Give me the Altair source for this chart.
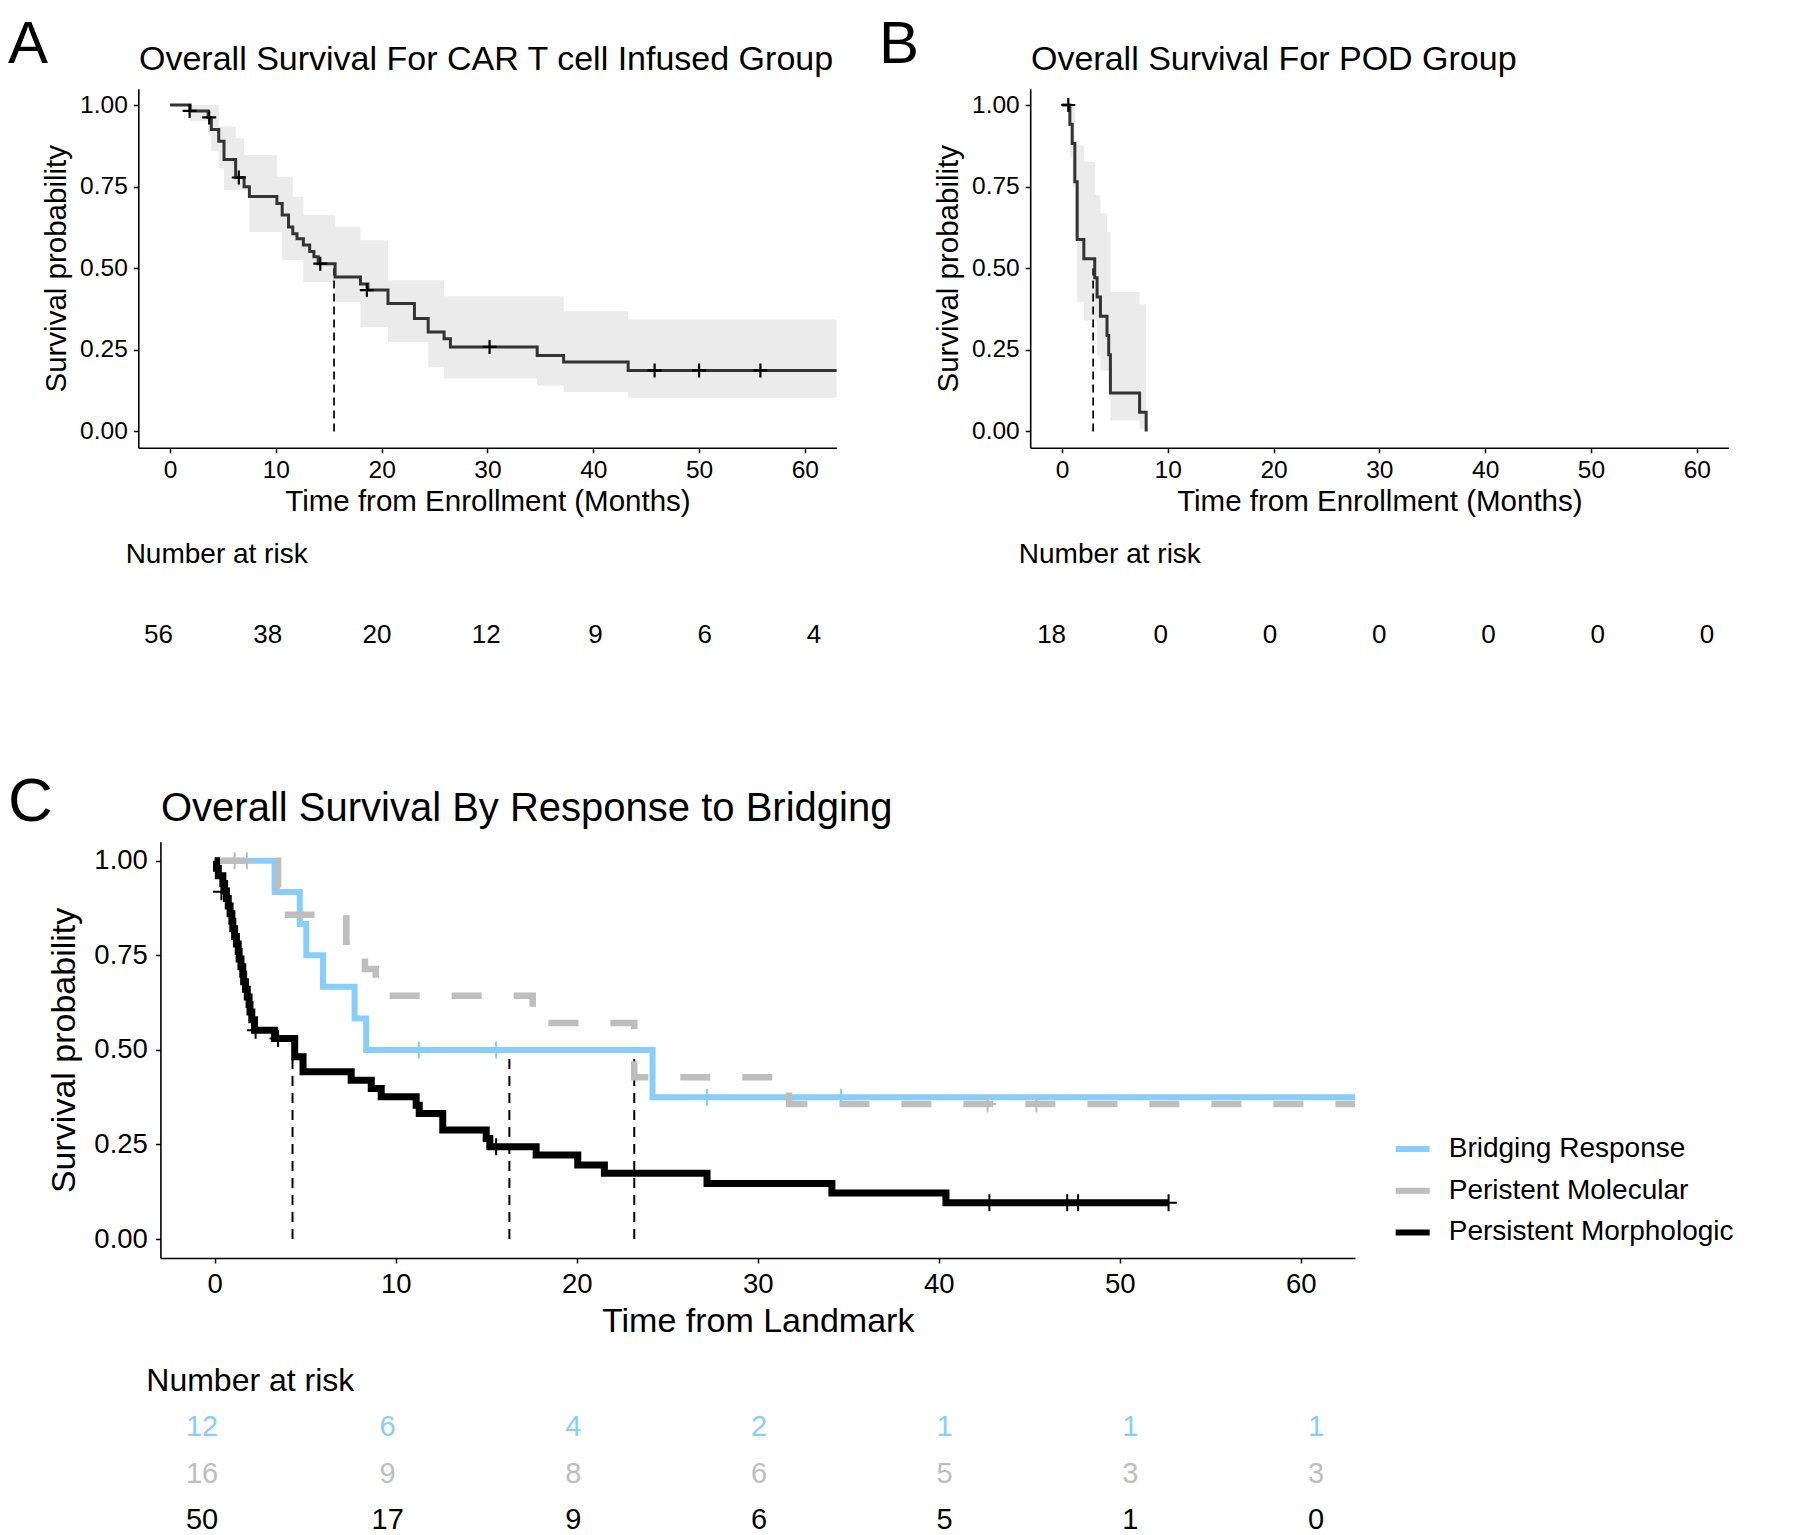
import altair as alt
import pandas as pd

FONT = "Liberation Sans"
W, H = 1784, 1527

# ---------------- data ----------------
# Panel A: CAR T cell infused group (Kaplan-Meier steps)
a_time = [0, 1.9, 3.6, 3.9, 4.6, 5.1, 6.2, 7.0, 7.5, 10.1, 10.6, 11.2, 11.6, 12.0, 12.6, 13.2, 13.6, 14.0, 15.6, 18.0,
          18.7, 20.6, 23.1, 24.4, 25.9, 26.5, 34.7, 37.2, 43.3, 63]
a_surv = [1.0, 0.982, 0.962, 0.925, 0.889, 0.833, 0.778, 0.75, 0.72, 0.698, 0.663, 0.626, 0.606, 0.59, 0.571, 0.551,
          0.535, 0.514, 0.473, 0.452, 0.433, 0.392, 0.346, 0.305, 0.284, 0.259, 0.233, 0.213, 0.187, 0.187]
a_band_t = [0, 1.9, 3.6, 3.9, 4.6, 5.1, 6.2, 7.0, 7.5, 10.1, 10.6, 11.6, 12.6, 15.6, 18.0, 20.6, 24.4, 25.9, 34.7, 37.2, 43.3, 63]
a_upper = [1.0, 1.0, 1.0, 1.0, 0.934, 0.934, 0.898, 0.847, 0.847, 0.78, 0.78, 0.719, 0.663, 0.627, 0.586, 0.463, 0.463,
           0.414, 0.414, 0.368, 0.343, 0.343]
a_lower = [1.0, 0.95, 0.91, 0.86, 0.806, 0.739, 0.739, 0.739, 0.611, 0.611, 0.525, 0.525, 0.458, 0.397, 0.32, 0.274, 0.197,
           0.162, 0.141, 0.121, 0.103, 0.103]
a_cens_t = [1.85, 3.7, 6.5, 14.2, 18.6, 30.2, 45.8, 50.0, 55.8]
a_cens_s = [0.982, 0.962, 0.778, 0.514, 0.433, 0.259, 0.187, 0.187, 0.187]
a_median = [15.5]

# Panel B: POD group
b_time = [0, 0.75, 0.97, 1.22, 1.44, 2.07, 3.1, 3.32, 3.64, 4.26, 4.42, 4.58, 7.34, 7.96]
b_surv = [1.0, 0.941, 0.882, 0.765, 0.588, 0.529, 0.471, 0.412, 0.353, 0.294, 0.235, 0.118, 0.059, 0.0]
b_band_t = [0, 0.75, 0.97, 1.22, 1.44, 2.07, 3.1, 3.32, 3.64, 4.26, 4.58, 7.34, 7.96]
b_upper = [1.0, 1.0, 1.0, 0.877, 0.877, 0.826, 0.724, 0.724, 0.668, 0.611, 0.427, 0.39, 0.39]
b_lower = [1.0, 0.84, 0.75, 0.6, 0.397, 0.34, 0.34, 0.233, 0.187, 0.187, 0.034, 0.008, 0.008]
b_cens_t = [0.6]
b_cens_s = [1.0]
b_median = [2.95]

# Panel C: by response to bridging
groups = ["Bridging Response", "Peristent Molecular", "Persistent Morphologic"]
colors = ["#87CEFA", "#BEBEBE", "#000000"]

c1_time = [0, 3.31, 4.7, 5.06, 5.98, 7.73, 8.37, 24.19, 63]
c1_surv = [1.0, 0.917, 0.833, 0.75, 0.667, 0.583, 0.5, 0.375, 0.375]
c1_cens_t = [11.28, 15.55, 27.2, 34.6]
c1_cens_s = [0.5, 0.5, 0.375, 0.375]

c2_time = [0, 3.5, 4.05, 7.27, 8.3, 8.9, 17.57, 23.18, 31.73, 63]
c2_surv = [1.0, 0.929, 0.857, 0.786, 0.714, 0.643, 0.571, 0.428, 0.357, 0.357]
c2_cens_t = [1.1, 1.78, 42.7, 45.4]
c2_cens_s = [1.0, 1.0, 0.357, 0.357]

c3_time = [0, 0.1, 0.2, 0.45, 0.55, 0.65, 0.75, 0.85, 0.95, 1.0, 1.1, 1.2, 1.3, 1.35, 1.45, 1.55, 1.6, 1.7, 1.8, 1.9,
           1.95, 2.05, 2.2, 3.31, 4.42, 4.88, 7.54, 8.65, 9.2, 11.13, 11.3, 12.6, 15.0, 15.2, 17.76, 20.06, 21.53,
           27.2, 34.1, 40.4, 52.7]
c3_surv = [1.0, 0.98, 0.96, 0.94, 0.92, 0.90, 0.88, 0.86, 0.84, 0.82, 0.80, 0.78, 0.76, 0.74, 0.72, 0.70, 0.68, 0.66,
           0.64, 0.62, 0.60, 0.58, 0.552, 0.53, 0.482, 0.442, 0.42, 0.398, 0.376, 0.354, 0.332, 0.288, 0.266, 0.244,
           0.222, 0.196, 0.174, 0.147, 0.122, 0.096, 0.096]
c3_cens_t = [0.37, 2.26, 3.5, 15.55, 42.8, 47.1, 47.7, 52.7]
c3_cens_s = [0.918, 0.552, 0.53, 0.244, 0.096, 0.096, 0.096, 0.096]

c_medians = [4.3, 16.28, 23.18]

# Risk tables
risk_times = [0, 10, 20, 30, 40, 50, 60]
risk_a = [56, 38, 20, 12, 9, 6, 4]
risk_b = [18, 0, 0, 0, 0, 0, 0]
risk_c1 = [12, 6, 4, 2, 1, 1, 1]
risk_c2 = [16, 9, 8, 6, 5, 3, 3]
risk_c3 = [50, 17, 9, 6, 5, 1, 0]

# ---------------- helpers ----------------
CROSS = "M-1,0L1,0M0,-1L0,1"
time_ticks = [0, 10, 20, 30, 40, 50, 60]
surv_ticks = [0, 0.25, 0.5, 0.75, 1.0]


def axes(x_rng, y_rng, x_title, x_off, y_off, lab, tit, xlp, xtp, ylp, ytp):
    ax_x = alt.Axis(title=x_title, values=time_ticks, format="d", orient="bottom", offset=x_off,
                    labelFontSize=lab, titleFontSize=tit, tickSize=5, tickWidth=1.5, domainWidth=1.6,
                    labelPadding=xlp, titlePadding=xtp)
    ax_y = alt.Axis(title="Survival probability", values=surv_ticks, format=".2f", orient="left", offset=y_off,
                    labelFontSize=lab, titleFontSize=tit, tickSize=5, tickWidth=1.5, domainWidth=1.6,
                    labelPadding=ylp, titlePadding=ytp)
    xs = alt.Scale(domain=[-3, 63], range=x_rng, nice=False, zero=False)
    ys = alt.Scale(domain=[-0.05, 1.05], range=y_rng, nice=False, zero=False)

    def X(f):
        return alt.X(f"{f}:Q", scale=xs, axis=ax_x)

    def Y(f):
        return alt.Y(f"{f}:Q", scale=ys, axis=ax_y)

    return X, Y


def km_panel(X, Y, t, s, bt, bu, bl, ct, cs, med, line_color="#333333"):
    band = alt.Chart(pd.DataFrame({"t": bt, "upper": bu, "lower": bl})).mark_area(
        interpolate="step-after", color="#EBEBEB", opacity=1).encode(x=X("t"), y=Y("upper"), y2="lower:Q")
    medr = alt.Chart(pd.DataFrame({"t": med, "y0": [0.0] * len(med), "y1": [0.5] * len(med)})).mark_rule(
        color="black", strokeDash=[8, 5], strokeWidth=1.7).encode(x=X("t"), y=Y("y0"), y2="y1:Q")
    line = alt.Chart(pd.DataFrame({"t": t, "s": s})).mark_line(
        interpolate="step-after", color=line_color, strokeWidth=3).encode(x=X("t"), y=Y("s"))
    cens = alt.Chart(pd.DataFrame({"t": ct, "s": cs})).mark_point(
        shape=CROSS, size=196, filled=False, color="black", strokeWidth=2.2, opacity=1).encode(x=X("t"), y=Y("s"))
    return alt.layer(band, medr, line, cens)


# ---------------- panel A ----------------
XA, YA = axes([130.3, 828.6], [439.8, 80.7], "Time from Enrollment (Months)", -(H - 439.8), -130.3,
              24.5, 29.5, 6, 5, 6, 8)
panelA = km_panel(XA, YA, a_time, a_surv, a_band_t, a_upper, a_lower, a_cens_t, a_cens_s, a_median)

# ---------------- panel B ----------------
XB, YB = axes([1022.2, 1720.5], [439.8, 80.7], "Time from Enrollment (Months)", -(H - 439.8), -1022.2,
              24.5, 29.5, 6, 5, 6, 8)
panelB = km_panel(XB, YB, b_time, b_surv, b_band_t, b_upper, b_lower, b_cens_t, b_cens_s, b_median)

# ---------------- panel C ----------------
XC, YC = axes([152.4, 1347.0], [1250.0, 833.8], "Time from Landmark", -(H - 1250.0), -152.4,
              27.5, 34, 7.5, 6, 8, 12)
legC = alt.Legend(title=None, orient="none", legendX=1384.7, legendY=1121, symbolType="stroke",
                  symbolStrokeWidth=6, symbolSize=1156, labelFontSize=28, labelFont=FONT, labelColor="black",
                  rowPadding=7.7, labelOffset=16, padding=0, labelLimit=0)
colC = alt.Color("group:N", scale=alt.Scale(domain=groups, range=colors), legend=legC)

medC = alt.Chart(pd.DataFrame({"t": c_medians, "y0": [0.0] * 3, "y1": [0.5] * 3})).mark_rule(
    color="black", strokeDash=[10, 7], strokeWidth=2).encode(x=XC("t"), y=YC("y0"), y2="y1:Q")


def c_line(t, s, g, dash, width):
    df = pd.DataFrame({"t": t, "s": s, "group": [g] * len(t)})
    kw = dict(interpolate="step-after", strokeWidth=width, strokeCap="butt")
    if dash:
        kw["strokeDash"] = dash
    return alt.Chart(df).mark_line(**kw).encode(x=XC("t"), y=YC("s"), color=colC)


lineC1 = c_line(c1_time, c1_surv, groups[0], None, 6)
lineC2 = c_line(c2_time, c2_surv, groups[1], [30, 32], 6.5)
lineC3 = c_line(c3_time, c3_surv, groups[2], None, 7)

cens_df = pd.DataFrame({
    "t": c1_cens_t + c2_cens_t + c3_cens_t,
    "s": c1_cens_s + c2_cens_s + c3_cens_s,
    "group": [groups[0]] * len(c1_cens_t) + [groups[1]] * len(c2_cens_t) + [groups[2]] * len(c3_cens_t),
})
censC = alt.Chart(cens_df).mark_point(shape=CROSS, size=289, filled=False, strokeWidth=2, opacity=1).encode(
    x=XC("t"), y=YC("s"), color=colC)

panelC = alt.layer(medC, lineC1, lineC2, lineC3, censC)


# ---------------- risk tables ----------------
def risk_table(x_rng, y_rng, rows, head_size, num_size, n_rows):
    xs = alt.Scale(domain=[0, 60], range=x_rng, nice=False, zero=False)
    ys = alt.Scale(domain=[0, n_rows], range=y_rng, nice=False, zero=False)
    head = alt.Chart(pd.DataFrame({"t": [-3], "row": [0], "label": ["Number at risk"]})).mark_text(
        align="left", baseline="middle", fontSize=head_size, font=FONT, color="black").encode(
        x=alt.X("t:Q", scale=xs, axis=None), y=alt.Y("row:Q", scale=ys, axis=None), text="label:N")
    recs = []
    for i, (vals, g) in enumerate(rows):
        for tt, v in zip(risk_times, vals):
            recs.append({"t": tt, "row": i + 1, "n": str(v), "group": g})
    df = pd.DataFrame(recs)
    nums = alt.Chart(df).mark_text(align="center", baseline="middle", fontSize=num_size, font=FONT).encode(
        x=alt.X("t:Q", scale=xs, axis=None), y=alt.Y("row:Q", scale=ys, axis=None), text="n:N",
        color=alt.Color("group:N", scale=alt.Scale(domain=groups + ["all"], range=colors + ["#000000"]),
                        legend=None))
    return alt.layer(head, nums)


riskA = risk_table([150.4, 805.9], [546.5, 626.8], [(risk_a, "all")], 28, 26, 1)
riskB = risk_table([1043.6, 1699.1], [546.5, 626.8], [(risk_b, "all")], 28, 26, 1)
riskC = risk_table([194.0, 1308.0], [1373.0, 1512.0],
                   [(risk_c1, groups[0]), (risk_c2, groups[1]), (risk_c3, groups[2])], 32, 29, 3)


# ---------------- annotations (panel letters and titles) ----------------
def note(text, x, y, size):
    return alt.Chart(alt.Data(values=[{}])).mark_text(
        text=text, fontSize=size, font=FONT, align="left", baseline="alphabetic", color="black").encode(
        x=alt.value(x), y=alt.value(y))


notes = [
    note("A", 0, 54.5, 60),
    note("B", 871, 54.5, 60),
    note("C", 0, 813, 62),
    note("Overall Survival For CAR T cell Infused Group", 131, 61.6, 34),
    note("Overall Survival For POD Group", 1023, 61.6, 34),
    note("Overall Survival By Response to Bridging", 153, 813, 40),
]

chart = alt.layer(panelA, panelB, panelC, riskA, riskB, riskC, *notes).resolve_scale(
    x="independent", y="independent", color="independent"
).resolve_axis(x="independent", y="independent").resolve_legend(color="independent").properties(
    width=W, height=H, padding=0, autosize=alt.AutoSizeParams(type="none")
).configure(font=FONT).configure_view(strokeWidth=0, stroke="transparent").configure_axis(
    grid=False, labelFont=FONT, titleFont=FONT, domainColor="black", tickColor="black", labelColor="black",
    titleColor="black", titleFontWeight="normal", labelFlush=False
)

chart.save("out.html", embed_options={"renderer": "svg", "actions": False})
